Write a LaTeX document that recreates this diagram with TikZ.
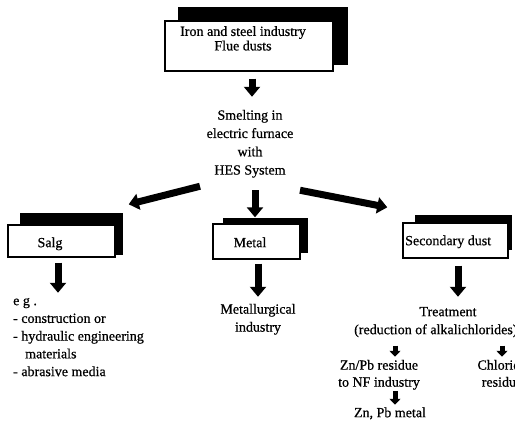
\documentclass[tikz,border=0pt]{standalone}
\usepackage{fontspec}
\setmainfont{Liberation Serif}[FakeBold=0.6]
\usetikzlibrary{arrows.meta}
\begin{document}
\begin{tikzpicture}[x=1pt,y=-1pt,
  every node/.style={inner sep=0pt, font=\fontsize{14}{17.5}\selectfont,
    execute at begin node=\strut, execute at end node=\strut},
  box/.style={draw=black, line width=1.4pt, fill=white, rectangle},
  shade/.style={fill=black},
  txt/.style={align=center},
  ltxt/.style={align=left},
  bigarrow/.style={line width=7pt, -{Triangle[length=10pt,width=16pt]}},
  smallarrow/.style={line width=5pt, -{Triangle[length=6pt,width=11pt]}}
]
\useasboundingbox (0,0) rectangle (515,424);
\clip (0,0) rectangle (515,424);
\fill[white] (0,0) rectangle (515,424);

% boxes with their black shadows
\fill[shade] (178,7) rectangle (348,65);
\node[box, minimum width=168pt, minimum height=50pt] (top) at (249,46) {};
\node[txt, anchor=north, font=\fontsize{14}{14.5}\selectfont] (toptext) at (243,26) {Iron and steel industry\\Flue dusts};

\fill[shade] (20,213) rectangle (123,255);
\node[box, minimum width=107pt, minimum height=32pt] (salg) at (61.5,241) {};
\node[anchor=north] (salgtext) at (50,234.75) {Salg};

\fill[shade] (223,218) rectangle (308,253);
\node[box, minimum width=87pt, minimum height=35pt] (metal) at (256.5,241.5) {};
\node[anchor=north] (metaltext) at (250,234.75) {Metal};

\fill[shade] (415,215) rectangle (512,250);
\node[box, minimum width=105pt, minimum height=35pt] (sec) at (455.5,240.5) {};
\node[anchor=north west] (sectext) at (405,232.75) {Secondary dust};

% text nodes
\node[txt, anchor=north, font=\fontsize{14}{18.3}\selectfont] (smelt) at (250,109.75)
  {Smelting in\\electric furnace\\with\\HES System};
\node[ltxt, anchor=north west, font=\fontsize{14}{17.75}\selectfont] (list) at (13,297.75)
  {e g .\\- construction or\\- hydraulic engineering\\\hspace*{12pt}materials\\- abrasive media};
\node[txt, anchor=north, font=\fontsize{14}{18}\selectfont] (metall) at (258,303.75)
  {Metallurgical\\industry};
\node[anchor=north] (treat) at (448,303.75) {Treatment};
\node[anchor=north west] (reduct) at (354,321.75) {(reduction of alkalichlorides)};
\node[txt, anchor=north, font=\fontsize{14}{17}\selectfont] (zn) at (379,359.75)
  {Zn/Pb residue\\to NF industry};
\node[txt, anchor=north, font=\fontsize{14}{17}\selectfont] (chl) at (502,359.75)
  {Chloride\\residue};
\node[anchor=north] (znm) at (390,404.75) {Zn, Pb metal};

% connectors
\draw[bigarrow] ([xshift=3pt,yshift=-7pt]top.south) -- ([xshift=2pt,yshift=13pt]smelt.north);
\draw[bigarrow] ([xshift=-50pt,yshift=-6pt]smelt.south) -- ([xshift=13pt,yshift=20pt]salg.north east);
\draw[bigarrow] ([xshift=5pt,yshift=-10pt]smelt.south) -- ([xshift=-1.5pt,yshift=6pt]metal.north);
\draw[bigarrow] ([xshift=50pt,yshift=-10pt]smelt.south) -- ([xshift=-15pt,yshift=15pt]sec.north west);
\draw[bigarrow] ([xshift=-3.5pt,yshift=-5pt]salg.south) -- ([xshift=45pt,yshift=5pt]list.north west);
\draw[bigarrow] ([xshift=1.5pt,yshift=-4pt]metal.south) -- ([yshift=7pt]metall.north);
\draw[bigarrow] ([xshift=2.5pt,yshift=-7pt]sec.south) -- ([xshift=10pt,yshift=7pt]treat.north);
\draw[smallarrow] ([xshift=41pt,yshift=-6pt]reduct.south west) -- ([xshift=16pt,yshift=3pt]zn.north);
\draw[smallarrow] ([xshift=148pt,yshift=-6pt]reduct.south west) -- ([yshift=3pt]chl.north);
\draw[smallarrow] ([xshift=16pt,yshift=1pt]zn.south) -- ([xshift=5pt]znm.north);
\end{tikzpicture}
\end{document}
